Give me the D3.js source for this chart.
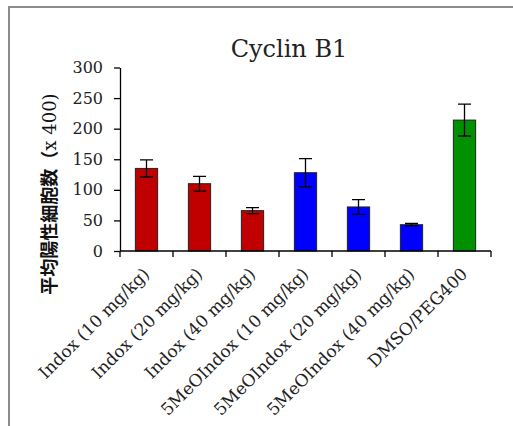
<!DOCTYPE html>
<html>
<head>
<meta charset="utf-8">
<style type="text/css">
body { margin: 0; background: #fff; }
.frame { fill: none; stroke: #8c8c8c; stroke-width: 2; }
.bar { stroke: #222; stroke-width: 1; }
.err { stroke: #000; stroke-width: 1.3; fill: none; }
.axis path, .axis line { stroke: #000; stroke-width: 1.3; }
.axis text { font-family: "DejaVu Serif", serif; fill: #222; }
</style>
<script src="https://d3js.org/d3.v7.min.js"></script>
</head>
<body>
<script type="text/javascript">
var width  = 513;
var height = 426;

var categories = ["Indox (10 mg/kg)", "Indox (20 mg/kg)", "Indox (40 mg/kg)",
	"5MeOIndox (10 mg/kg)", "5MeOIndox (20 mg/kg)", "5MeOIndox (40 mg/kg)", "DMSO/PEG400"];
var values = [135, 110, 66, 128, 72, 43, 214];
var errors = [14, 12, 5, 23, 12, 2, 26];
var colors = ["#c00000", "#c00000", "#c00000", "#0000ff", "#0000ff", "#0000ff", "#009100"];
var yTicks = [0, 50, 100, 150, 200, 250, 300];

var svg = d3.select("body").append("svg").attr("width", width).attr("height", height);

svg.append("rect").attr("class", "frame")
	.attr("x", 9).attr("y", 7).attr("width", 600).attr("height", 500);

var x = d3.scaleBand().domain(categories).range([120, 491]).paddingInner(0.58).paddingOuter(0.29);
var y = d3.scaleLinear().domain([0, 300]).range([251, 67.5]);

// bars
svg.selectAll(".bar").data(values).enter().append("rect")
	.attr("class", "bar")
	.attr("x", function(d, i) { return x(categories[i]); })
	.attr("y", function(d) { return y(d); })
	.attr("width", x.bandwidth())
	.attr("height", function(d) { return y(0) - y(d); })
	.attr("fill", function(d, i) { return colors[i]; });

// error bars
var cap = 6.5;
var eb = svg.selectAll(".errg").data(values).enter().append("g");
eb.append("path").attr("class", "err")
	.attr("d", function(d, i) {
		var cx = x(categories[i]) + x.bandwidth() / 2;
		var t = y(d + errors[i]), b = y(d - errors[i]);
		return "M" + cx + "," + t + "V" + b +
			"M" + (cx - cap) + "," + t + "H" + (cx + cap) +
			"M" + (cx - cap) + "," + b + "H" + (cx + cap);
	});

// y axis
var ya = svg.append("g").attr("class", "axis")
	.attr("transform", "translate(120,0)")
	.call(d3.axisLeft(y).tickValues(yTicks).tickSize(6).tickSizeOuter(0));
ya.selectAll("text").attr("font-size", 16).attr("x", -17);

// x axis: ticks at category boundaries
var xa = svg.append("g").attr("class", "axis")
	.attr("transform", "translate(0,251)");
xa.append("path").attr("d", "M" + x.range()[0] + ",0H" + x.range()[1]);
var step = x.step();
var bounds = categories.map(function(c) { return x(c) - (step - x.bandwidth()) / 2; });
bounds.push(x.range()[1]);
xa.selectAll(".tk").data(bounds).enter().append("line")
	.attr("x1", function(d) { return d; }).attr("x2", function(d) { return d; })
	.attr("y1", 0).attr("y2", 6);
xa.selectAll(".lbl").data(categories).enter().append("text")
	.attr("font-size", 17)
	.attr("text-anchor", "end")
	.attr("transform", function(d) {
		return "translate(" + (x(d) + x.bandwidth() / 2 + 4) + ",24) rotate(-45)";
	})
	.text(function(d) { return d; });

// title
svg.append("text")
	.attr("x", 289).attr("y", 57)
	.attr("text-anchor", "middle")
	.attr("font-family", "DejaVu Serif, serif")
	.attr("font-size", 24)
	.attr("fill", "#222")
	.text("Cyclin B1");

// y axis title
var yt = svg.append("text")
	.attr("transform", "translate(56,194) rotate(-90)")
	.attr("text-anchor", "middle")
	.attr("font-size", 18)
	.attr("fill", "#111");
yt.append("tspan").attr("font-family", "Noto Sans CJK JP").attr("font-weight", "bold").text("平均陽性細胞数（");
yt.append("tspan").attr("font-family", "DejaVu Serif, serif").text("x 400)");
</script>
</body>
</html>
